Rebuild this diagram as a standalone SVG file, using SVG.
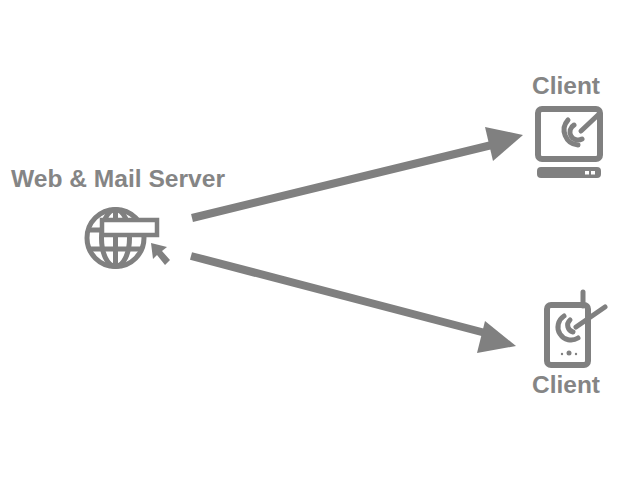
<svg xmlns="http://www.w3.org/2000/svg" width="640" height="480" viewBox="0 0 640 480">
<style>
.label{font-family:"Liberation Sans",Arial,sans-serif;font-size:24px;font-weight:700;fill:#858585}
.line{fill:none;stroke:#808080;stroke-width:5}
.frame{fill:none;stroke:#808080;stroke-width:6}
.solid{fill:#808080}
.link{fill:none;stroke:#808080;stroke-width:8}
.arc{fill:none;stroke:#808080;stroke-width:5;stroke-linecap:round}
</style>
<rect width="640" height="480" fill="#fff"/>
<g id="connectors">
<path class="link" d="M192 218L500 143"/>
<polygon class="solid" points="523,135 493,161 485,127"/>
<path class="link" d="M191 256L493 335"/>
<polygon class="solid" points="516,346 477,353 485,321"/>
</g>
<g id="server">
<text class="label" x="11" y="187" textLength="214" lengthAdjust="spacingAndGlyphs">Web &amp; Mail Server</text>
<circle class="line" cx="115.500" cy="238" r="28.500"/>
<ellipse class="line" cx="115.500" cy="238" rx="14" ry="28.500"/>
<path class="line" d="M115.500 209V267M88 230H102M90 249H141"/>
<rect x="102" y="220" width="55" height="15" fill="#fff" stroke="#808080" stroke-width="4.500"/>
<polygon class="solid" points="151,243 167,247 162,251 170,260 165,265 157,255 153,259"/>
</g>
<g id="client-desktop">
<text class="label" x="532" y="94" textLength="68" lengthAdjust="spacingAndGlyphs">Client</text>
<rect class="frame" x="538" y="109" width="62" height="50" rx="4"/>
<rect class="solid" x="537" y="167" width="64" height="11" rx="4"/>
<rect x="585" y="171" width="4" height="3.500" fill="#fff"/>
<rect x="591" y="171" width="4" height="3.500" fill="#fff"/>
<path class="arc" d="M581 131L598 115"/>
<path class="arc" d="M574 125A8 8 0 0 0 582 139"/>
<path class="arc" d="M568 120A15 15 0 0 0 578 145"/>
</g>
<g id="client-phone">
<path d="M583 292V306" fill="none" stroke="#808080" stroke-width="5" stroke-linecap="round"/>
<rect class="frame" x="547" y="305" width="41" height="60" rx="4"/>
<path class="arc" d="M576 327L605 307"/>
<path class="arc" d="M570 320A7 7 0 0 0 573 332"/>
<path class="arc" d="M564 316A13 13 0 0 0 578 338"/>
<circle class="solid" cx="569" cy="353" r="2.500"/>
<circle class="solid" cx="562" cy="354" r="1.200"/>
<circle class="solid" cx="576" cy="354" r="1.200"/>
<text class="label" x="532" y="393" textLength="68" lengthAdjust="spacingAndGlyphs">Client</text>
</g>
</svg>
